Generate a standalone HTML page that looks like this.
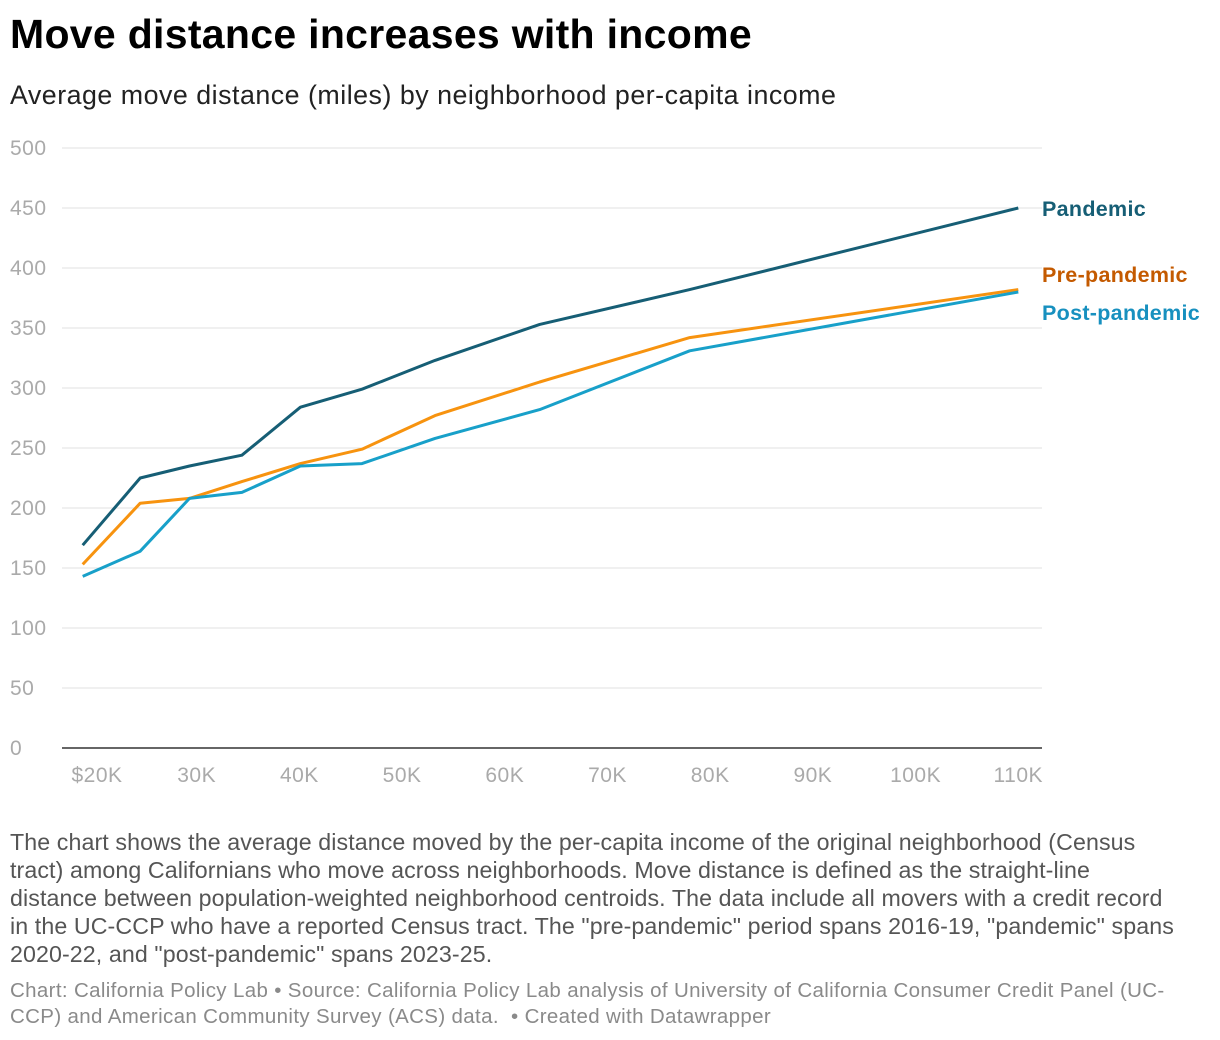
<!DOCTYPE html>
<html><head><meta charset="utf-8"><style>
body{margin:0;width:1220px;height:1040px;background:#fff;font-family:"Liberation Sans",sans-serif;position:relative;overflow:hidden}
#title{position:absolute;left:10px;top:11px;font-size:41px;letter-spacing:0.3px;font-weight:bold;color:#000;margin:0}
#sub{position:absolute;left:10px;top:80px;font-size:26.8px;letter-spacing:0.5px;color:#222}
#notes{position:absolute;left:10px;top:828px;width:1177px;font-size:23.2px;letter-spacing:0.1px;line-height:28px;color:#555}
#foot{position:absolute;left:10px;top:978px;width:1205px;font-size:20.5px;letter-spacing:0.35px;line-height:26px;color:#8a8a8a}
svg{position:absolute;left:0;top:0}
</style></head><body>
<h1 id="title">Move distance increases with income</h1>
<div id="sub">Average move distance (miles) by neighborhood per-capita income</div>
<svg id="chart" width="1220" height="800"></svg>
<div id="notes">The chart shows the average distance moved by the per-capita income of the original neighborhood (Census tract) among Californians who move across neighborhoods. Move distance is defined as the straight-line<br>distance between population-weighted neighborhood centroids. The data include all movers with a credit record<br>in the UC-CCP who have a reported Census tract. The "pre-pandemic" period spans 2016-19, "pandemic" spans 2020-22, and "post-pandemic" spans 2023-25.</div>
<div id="foot">Chart: California Policy Lab • Source: California Policy Lab analysis of University of California Consumer Credit Panel (UC-CCP) and American Community Survey (ACS) data. &nbsp;• Created with Datawrapper</div>
<script>
const incomes=[18.9,24.5,29.3,34.4,40.1,46.1,53.2,63.4,78,110];
const pandemic=[169,225,235,244,284,299,323,353,382,450];
const prePandemic=[153,204,208,222,237,249,277,305,342,382];
const postPandemic=[143,164,208,213,235,237,258,282,331,380];
const yTicks=[0,50,100,150,200,250,300,350,400,450,500];
const xTicks=[20,30,40,50,60,70,80,90,100,110];
const xTickLabels=["$20K","30K","40K","50K","60K","70K","80K","90K","100K","110K"];
const seriesNames=["Pandemic","Pre-pandemic","Post-pandemic"];
const NS="http://www.w3.org/2000/svg";
const svg=document.getElementById('chart');
const x=v=>94+(v-20)*10.27;
const y=v=>748-v*1.2;
function mk(t,a){const e=document.createElementNS(NS,t);for(const k in a)e.setAttribute(k,a[k]);svg.appendChild(e);return e;}
yTicks.forEach(t=>{
 if(t>0){const g=mk('line',{x1:62,x2:1042,y1:y(t),y2:y(t),stroke:'#e0e0e0','stroke-width':1});
 
 }
 const l=mk('text',{x:10,y:y(t)+7,'font-size':21,'letter-spacing':0.5,fill:'#aaa'});l.textContent=t;
 
 
});
const ax=mk('line',{x1:62,x2:1042,y1:748,y2:748,stroke:'#333','stroke-width':1.5});


xTicks.forEach((t,i)=>{
 const l=mk('text',{x:x(t)+(i==0?3:0),y:782,'font-size':21,'letter-spacing':0.5,fill:'#aaa','text-anchor':'middle'});l.textContent=xTickLabels[i];
 
 
});
const colors=['#165e75','#f7930f','#18a0c9'];
const labelColors=['#165e75','#c45a00','#1790bf'];
const labelY=[216,282,320];
[pandemic,prePandemic,postPandemic].forEach((s,k)=>{
 const d=s.map((v,i)=>(i?'L':'M')+x(incomes[i]).toFixed(1)+','+y(v).toFixed(1)).join(' ');
 const p=mk('path',{d:d,fill:'none',stroke:colors[k],'stroke-width':3,'stroke-linejoin':'round'});
 
 
 const l=mk('text',{x:1042,y:labelY[k],'font-size':21.5,'letter-spacing':0.3,'font-weight':'bold',fill:labelColors[k]});l.textContent=seriesNames[k];
 
 
});
</script>
</body></html>
